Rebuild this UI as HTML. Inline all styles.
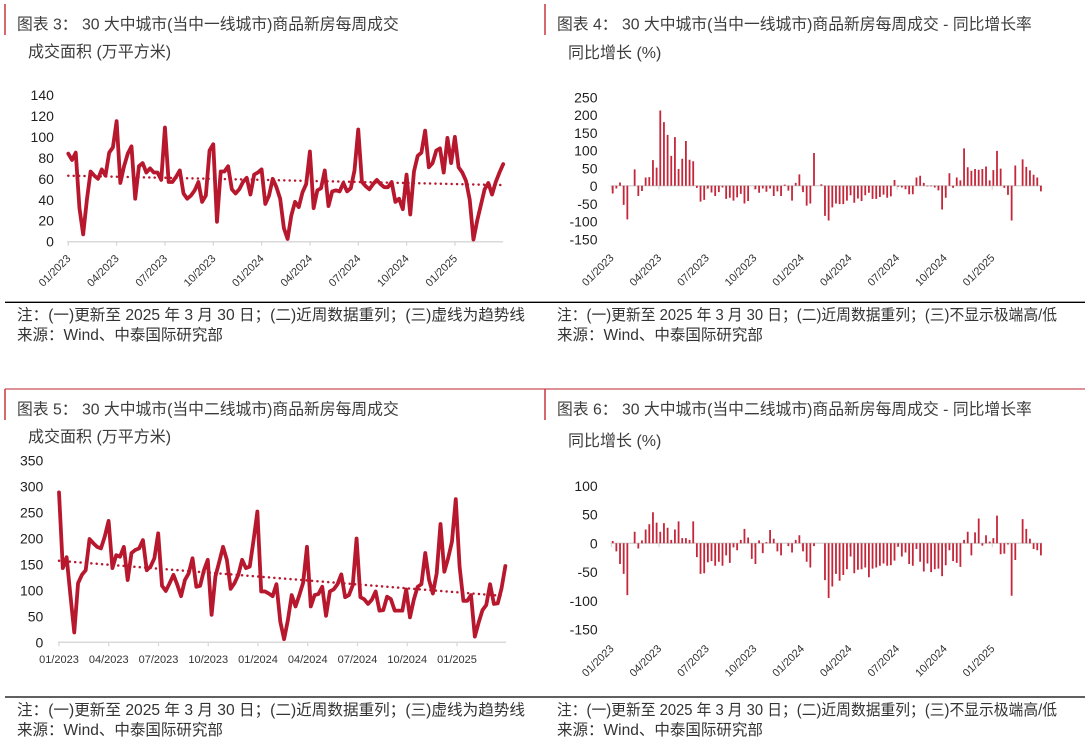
<!DOCTYPE html>
<html><head><meta charset="utf-8">
<style>
html,body{margin:0;padding:0;background:#fff;}
body{width:1090px;height:741px;overflow:hidden;}
svg{display:block;font-family:"Liberation Sans","Noto Sans CJK SC",sans-serif;}
.t{font-size:15.8px;fill:#3c3c3c;}
.s{font-size:16px;fill:#3c3c3c;}
.f{font-size:15.5px;fill:#333;}
.y{font-size:14px;fill:#1f1f1f;text-anchor:end;}
.x{font-size:11px;fill:#333;text-anchor:end;}
.xc{font-size:11px;fill:#333;text-anchor:middle;}
</style></head>
<body>
<svg width="1090" height="741" viewBox="0 0 1090 741" xmlns="http://www.w3.org/2000/svg">
<!-- header marks -->
<line x1="5" y1="4" x2="5" y2="35" stroke="#c8373c" stroke-width="1.5"/>
<line x1="545" y1="4" x2="545" y2="35" stroke="#c8373c" stroke-width="1.5"/>
<line x1="5" y1="389" x2="1085" y2="389" stroke="#b8262c" stroke-width="1"/>
<line x1="5" y1="389" x2="5" y2="420" stroke="#c8373c" stroke-width="1.5"/>
<line x1="545" y1="389" x2="545" y2="420" stroke="#c8373c" stroke-width="1.5"/>
<!-- footer lines -->
<line x1="5" y1="302.3" x2="1085" y2="302.3" stroke="#000" stroke-width="1.3"/>
<line x1="5" y1="697" x2="1085" y2="697" stroke="#000" stroke-width="1.3"/>

<!-- titles -->
<text class="t" x="17" y="29.5">图表 3： 30 大中城市(当中一线城市)商品新房每周成交</text>
<text class="s" x="28" y="57">成交面积 (万平方米)</text>
<text class="t" x="557" y="29.5">图表 4： 30 大中城市(当中一线城市)商品新房每周成交 - 同比增长率</text>
<text class="s" x="568" y="58">同比增长 (%)</text>
<text class="t" x="17" y="414.5">图表 5： 30 大中城市(当中二线城市)商品新房每周成交</text>
<text class="s" x="28" y="442">成交面积 (万平方米)</text>
<text class="t" x="557" y="414.5">图表 6： 30 大中城市(当中二线城市)商品新房每周成交 - 同比增长率</text>
<text class="s" x="568" y="446">同比增长 (%)</text>

<!-- footers -->
<text class="f" x="17" y="320.2" textLength="508" lengthAdjust="spacingAndGlyphs">注：(一)更新至 2025 年 3 月 30 日；(二)近周数据重列；(三)虚线为趋势线</text>
<text class="f" x="17" y="340.2">来源：Wind、中泰国际研究部</text>
<text class="f" x="557" y="320.2" textLength="500" lengthAdjust="spacingAndGlyphs">注：(一)更新至 2025 年 3 月 30 日；(二)近周数据重列；(三)不显示极端高/低</text>
<text class="f" x="557" y="340.2">来源：Wind、中泰国际研究部</text>
<text class="f" x="17" y="715" textLength="508" lengthAdjust="spacingAndGlyphs">注：(一)更新至 2025 年 3 月 30 日；(二)近周数据重列；(三)虚线为趋势线</text>
<text class="f" x="17" y="735">来源：Wind、中泰国际研究部</text>
<text class="f" x="557" y="715" textLength="500" lengthAdjust="spacingAndGlyphs">注：(一)更新至 2025 年 3 月 30 日；(二)近周数据重列；(三)不显示极端高/低</text>
<text class="f" x="557" y="735">来源：Wind、中泰国际研究部</text>

<!-- ===== Chart 1 ===== -->
<g class="y">
<text x="53.9" y="100">140</text>
<text x="53.9" y="120.9">120</text>
<text x="53.9" y="141.9">100</text>
<text x="53.9" y="162.9">80</text>
<text x="53.9" y="183.8">60</text>
<text x="53.9" y="204.8">40</text>
<text x="53.9" y="225.7">20</text>
<text x="53.9" y="246.7">0</text>
</g>
<line x1="67" y1="241.7" x2="503" y2="241.7" stroke="#d9d9d9" stroke-width="1.5"/>
<path d="M68.3 241.7v4M116.6 241.7v4M165 241.7v4M213.3 241.7v4M261.6 241.7v4M310 241.7v4M358.3 241.7v4M406.6 241.7v4M455 241.7v4" stroke="#d9d9d9" stroke-width="1.3"/>
<line x1="68.3" y1="175.7" x2="503.2" y2="185.1" stroke="#b8182e" stroke-width="2.5" stroke-dasharray="0.1 5.3" stroke-linecap="round"/>
<g transform="translate(68.3 241.7) scale(3.717 -1.048)">
<polyline fill="none" stroke="#b8182e" stroke-width="3.8" stroke-linejoin="round" stroke-linecap="round" vector-effect="non-scaling-stroke"
points="0,84 1,78 2,85 3,32 4,7 5,40 6,67 7,63 8,60 9,69 10,63 11,85 12,90 13,115 14,56 15,72 16,84 17,91 18,41 19,72 20,75 21,66 22,70 23,66 24,66 25,59 26,109 27,57 28,57 29,62 30,68 31,46 32,41 33,44 34,49 35,57 36,38 37,44 38,87 39,93 40,19 41,67 42,67 43,72 44,50 45,46 46,50 47,57 48,61 49,45 50,64 51,66 52,69 53,36 54,44 55,60 56,52 57,41 58,13 59,2.6 60,25 61,38 62,33 63,47 64,55 65,86 66,32 67,49 68,51 69,68 70,34 71,48 72,49 73,48 74,56 75,48 76,51 77,68 78,107 79,57 80,53 81,50 82,55 83,59 84,55 85,52 86,52 87,57 88,38 89,41 90,31 91,64 92,26 93,67 94,82 95,85 96,106 97,71 98,75 99,87 100,89 101,66 102,99 103,75 104,100 105,71 106,66 107,58 108,40 109,2 110,20 111,35 112,50 113,56 114,45 115,57 116,66 117,74"/>
</g>
<g class="x">
<text x="71.3" y="259.2" transform="rotate(-45 71.3 259.2)">01/2023</text>
<text x="119.6" y="259.2" transform="rotate(-45 119.6 259.2)">04/2023</text>
<text x="168" y="259.2" transform="rotate(-45 168 259.2)">07/2023</text>
<text x="216.3" y="259.2" transform="rotate(-45 216.3 259.2)">10/2023</text>
<text x="264.6" y="259.2" transform="rotate(-45 264.6 259.2)">01/2024</text>
<text x="313" y="259.2" transform="rotate(-45 313 259.2)">04/2024</text>
<text x="361.3" y="259.2" transform="rotate(-45 361.3 259.2)">07/2024</text>
<text x="409.6" y="259.2" transform="rotate(-45 409.6 259.2)">10/2024</text>
<text x="458" y="259.2" transform="rotate(-45 458 259.2)">01/2025</text>
</g>

<!-- ===== Chart 2 ===== -->
<g class="y">
<text x="597.5" y="102.3">250</text>
<text x="597.5" y="120">200</text>
<text x="597.5" y="137.8">150</text>
<text x="597.5" y="155.5">100</text>
<text x="597.5" y="173.3">50</text>
<text x="597.5" y="191">0</text>
<text x="597.5" y="208.8">-50</text>
<text x="597.5" y="226.5">-100</text>
<text x="597.5" y="244.3">-150</text>
</g>
<line x1="610.5" y1="185.7" x2="1042" y2="185.7" stroke="#d9d9d9" stroke-width="1.5"/>
<path d="M611.5 185.7v4M659.1 185.7v4M706.7 185.7v4M754.3 185.7v4M801.9 185.7v4M849.5 185.7v4M897.1 185.7v4M944.7 185.7v4M992.3 185.7v4" stroke="#d9d9d9" stroke-width="1.3"/>
<g transform="translate(612.7 185.7) scale(3.66 -0.355)">
<path fill="none" stroke="#c4263a" stroke-width="1.8" vector-effect="non-scaling-stroke"
d="M0 0V-22M1 0V-8M2 0V9M3 0V-54M4 0V-95M6 0V46M7 0V-29M8 0V-15M9 0V23M10 0V24M11 0V72M12 0V51M13 0V212M14 0V179M15 0V143M16 0V84M17 0V137M18 0V47M19 0V76M20 0V126M21 0V73M22 0V69M23 0V-6M24 0V-45M25 0V-40M26 0V-8M27 0V-19M28 0V-29M29 0V-18M30 0V-5M31 0V-37M32 0V-34M33 0V-42M34 0V-33M35 0V-23M36 0V-50M37 0V-43M39 0V-10M40 0V-20M41 0V-8M42 0V-17M43 0V-8M44 0V-29M45 0V-16M46 0V-29M47 0V3M48 0V-14M49 0V-42M50 0V8M51 0V32M52 0V-18M53 0V-56M54 0V-50M55 0V92M57 0V4M58 0V-85M59 0V-98M60 0V-61M61 0V-50M62 0V-52M63 0V-52M64 0V-42M65 0V-27M66 0V-48M67 0V-36M68 0V-43M69 0V-27M70 0V-20M71 0V-37M72 0V-37M73 0V-32M74 0V-25M75 0V-34M76 0V-30M77 0V16M78 0V-3M79 0V-5M80 0V-10M81 0V-24M82 0V-24M83 0V23M84 0V28M85 0V8M86 0V-2M87 0V-2M88 0V-5M89 0V-13M90 0V-67M91 0V-34M92 0V35M93 0V-6M94 0V23M95 0V15M96 0V105M97 0V52M98 0V42M99 0V47M100 0V45M101 0V47M102 0V54M103 0V15M104 0V44M105 0V98M106 0V48M107 0V-6M108 0V-26M109 0V-98M110 0V57M112 0V74M113 0V53M114 0V43M115 0V31M116 0V23M117 0V-16"/>
</g>
<g class="x">
<text x="614.5" y="258.6" transform="rotate(-45 614.5 258.6)">01/2023</text>
<text x="662.1" y="258.6" transform="rotate(-45 662.1 258.6)">04/2023</text>
<text x="709.7" y="258.6" transform="rotate(-45 709.7 258.6)">07/2023</text>
<text x="757.3" y="258.6" transform="rotate(-45 757.3 258.6)">10/2023</text>
<text x="804.9" y="258.6" transform="rotate(-45 804.9 258.6)">01/2024</text>
<text x="852.5" y="258.6" transform="rotate(-45 852.5 258.6)">04/2024</text>
<text x="900.1" y="258.6" transform="rotate(-45 900.1 258.6)">07/2024</text>
<text x="947.7" y="258.6" transform="rotate(-45 947.7 258.6)">10/2024</text>
<text x="995.3" y="258.6" transform="rotate(-45 995.3 258.6)">01/2025</text>
</g>

<!-- ===== Chart 3 ===== -->
<g class="y">
<text x="43.3" y="465.7">350</text>
<text x="43.3" y="491.7">300</text>
<text x="43.3" y="517.6">250</text>
<text x="43.3" y="543.5">200</text>
<text x="43.3" y="569.5">150</text>
<text x="43.3" y="595.4">100</text>
<text x="43.3" y="621.4">50</text>
<text x="43.3" y="647.3">0</text>
</g>
<line x1="58" y1="642.3" x2="506" y2="642.3" stroke="#d9d9d9" stroke-width="1.5"/>
<path d="M59 642.3v4M108.75 642.3v4M158.5 642.3v4M208.25 642.3v4M258 642.3v4M307.75 642.3v4M357.5 642.3v4M407.25 642.3v4M457 642.3v4" stroke="#d9d9d9" stroke-width="1.3"/>
<line x1="59" y1="560.8" x2="505.4" y2="596.1" stroke="#b8182e" stroke-width="2.5" stroke-dasharray="0.1 5.3" stroke-linecap="round"/>
<g transform="translate(59 642.3) scale(3.815 -0.5188)">
<polyline fill="none" stroke="#b8182e" stroke-width="3.8" stroke-linejoin="round" stroke-linecap="round" vector-effect="non-scaling-stroke"
points="0,289 1,143 2,164 3,90 4,19 5,114 6,130 7,139 8,199 9,191 10,184 11,181 12,204 13,234 14,143 15,168 16,165 17,184 18,120 19,172 20,178 21,181 22,197 23,139 24,146 25,162 26,210 27,109 28,99 29,114 30,130 31,111 32,89 33,120 34,133 35,162 36,107 37,109 38,139 39,159 40,53 41,127 42,155 43,184 44,159 45,103 46,114 47,130 48,159 49,143 50,146 51,197 52,252 53,98 54,98 55,94 56,89 57,112 58,40 59,6 60,43 61,91 62,69 63,91 64,115 65,184 66,69 67,91 68,93 69,107 70,51 71,98 72,102 73,112 74,131 75,87 76,91 77,110 78,200 79,87 80,83 81,74 82,82 83,98 84,61 85,62 86,88 87,83 88,61 89,61 90,61 91,102 92,48 93,82 94,107 95,112 96,172 97,120 98,94 99,133 100,228 101,136 102,162 103,194 104,276 105,146 106,80 107,80 108,91 109,11 110,38 111,62 112,72 113,112 114,74 115,75 116,104 117,147"/>
</g>
<g class="xc">
<text x="59" y="663">01/2023</text>
<text x="108.75" y="663">04/2023</text>
<text x="158.5" y="663">07/2023</text>
<text x="208.25" y="663">10/2023</text>
<text x="258" y="663">01/2024</text>
<text x="307.75" y="663">04/2024</text>
<text x="357.5" y="663">07/2024</text>
<text x="407.25" y="663">10/2024</text>
<text x="457" y="663">01/2025</text>
</g>

<!-- ===== Chart 4 ===== -->
<g class="y">
<text x="597.7" y="490.9">100</text>
<text x="597.7" y="519.5">50</text>
<text x="597.7" y="548.3">0</text>
<text x="597.7" y="577.1">-50</text>
<text x="597.7" y="605.9">-100</text>
<text x="597.7" y="634.7">-150</text>
</g>
<line x1="610.5" y1="543.3" x2="1042" y2="543.3" stroke="#d9d9d9" stroke-width="1.5"/>
<path d="M611.5 543.3v4M659.1 543.3v4M706.7 543.3v4M754.3 543.3v4M801.9 543.3v4M849.5 543.3v4M897.1 543.3v4M944.7 543.3v4M992.3 543.3v4" stroke="#d9d9d9" stroke-width="1.3"/>
<g transform="translate(612.7 543.3) scale(3.66 -0.576)">
<path fill="none" stroke="#c4263a" stroke-width="1.8" vector-effect="non-scaling-stroke"
d="M0 0V4M1 0V-14M2 0V-36M3 0V-53M4 0V-90M6 0V20M7 0V-9M8 0V5M9 0V24M10 0V33M11 0V54M12 0V36M13 0V20M14 0V35M15 0V27M16 0V6M17 0V24M18 0V38M19 0V9M20 0V9M21 0V6M22 0V38M23 0V-24M24 0V-53M25 0V-52M26 0V-33M27 0V-31M28 0V-39M29 0V-32M30 0V-39M31 0V-21M32 0V-34M33 0V-7M34 0V-12M35 0V6M36 0V25M37 0V10M38 0V-27M39 0V-36M40 0V5M41 0V-17M42 0V2M43 0V23M44 0V8M45 0V-14M46 0V-21M48 0V-5M49 0V-16M50 0V6M51 0V14M52 0V-14M53 0V-32M54 0V-42M55 0V-5M58 0V-64M59 0V-95M60 0V-75M61 0V-53M62 0V-65M63 0V-55M64 0V-45M65 0V-23M66 0V-52M67 0V-46M68 0V-45M69 0V-42M70 0V-59M71 0V-44M72 0V-42M73 0V-39M74 0V-35M75 0V-39M76 0V-38M77 0V-30M78 0V-6M79 0V-23M80 0V-16M81 0V-36M82 0V-39M83 0V-10M84 0V-32M85 0V-49M86 0V-35M87 0V-50M88 0V-45M89 0V-44M90 0V-57M91 0V-38M92 0V-12M93 0V-31M94 0V-34M95 0V-41M96 0V6M97 0V20M98 0V-21M99 0V19M100 0V43M101 0V-4M102 0V14M103 0V3M104 0V9M105 0V48M106 0V-19M107 0V-18M108 0V-2M109 0V-91M110 0V-29M112 0V42M113 0V25M114 0V8M115 0V-10M116 0V-12M117 0V-21"/>
</g>
<g class="x">
<text x="614.5" y="649.3" transform="rotate(-45 614.5 649.3)">01/2023</text>
<text x="662.1" y="649.3" transform="rotate(-45 662.1 649.3)">04/2023</text>
<text x="709.7" y="649.3" transform="rotate(-45 709.7 649.3)">07/2023</text>
<text x="757.3" y="649.3" transform="rotate(-45 757.3 649.3)">10/2023</text>
<text x="804.9" y="649.3" transform="rotate(-45 804.9 649.3)">01/2024</text>
<text x="852.5" y="649.3" transform="rotate(-45 852.5 649.3)">04/2024</text>
<text x="900.1" y="649.3" transform="rotate(-45 900.1 649.3)">07/2024</text>
<text x="947.7" y="649.3" transform="rotate(-45 947.7 649.3)">10/2024</text>
<text x="995.3" y="649.3" transform="rotate(-45 995.3 649.3)">01/2025</text>
</g>
</svg>
</body></html>
